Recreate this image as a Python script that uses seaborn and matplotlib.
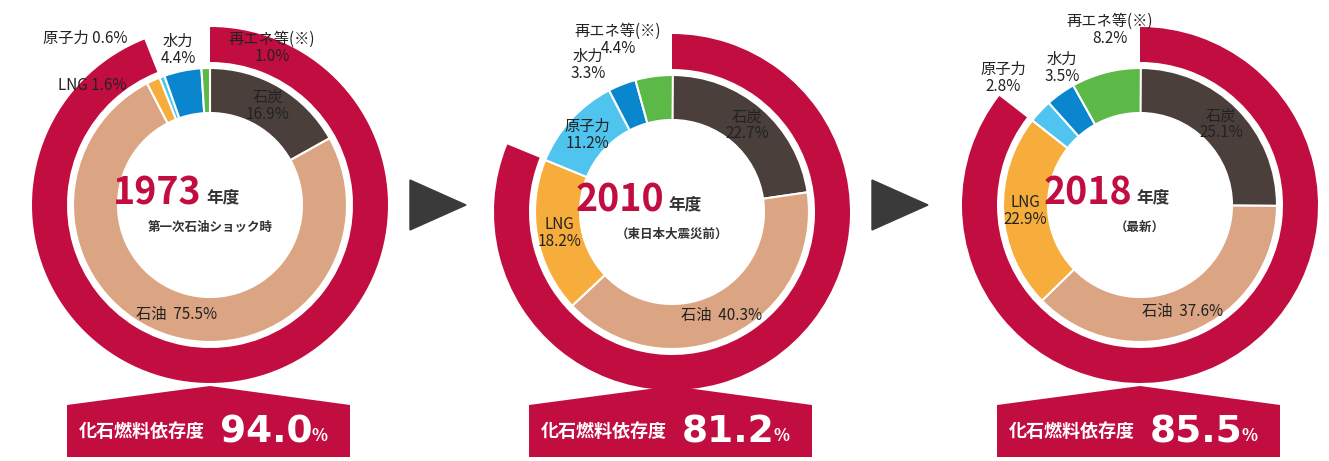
import numpy as np
import matplotlib.pyplot as plt
import seaborn as sns
from matplotlib.patches import Wedge, Polygon

sns.set_theme(style="white")
plt.rcParams["font.family"] = "Noto Sans CJK JP"

# DATA
years = ["1973", "2010", "2018"]
subtitles = ["第一次石油ショック時", "（東日本大震災前）", "（最新）"]
sources = ["石炭", "石油", "LNG", "原子力", "水力", "再エネ等(※)"]
share_1973 = [16.9, 75.5, 1.6, 0.6, 4.4, 1.0]
share_2010 = [22.7, 40.3, 18.2, 11.2, 3.3, 4.4]
share_2018 = [25.1, 37.6, 22.9, 2.8, 3.5, 8.2]
fossil_dep = [94.0, 81.2, 85.5]

shares = [share_1973, share_2010, share_2018]
colors = ["#4a3f3b", "#dba583", "#f6ad3c", "#4fc4ee", "#0a86cf", "#5cb947"]
RED = "#c20d40"
W, H = 1329, 461

centers = [(210, 205), (672, 212), (1140, 205)]
r_in, r_out = 92, 137
r_red_in, r_red_out = 143, 178

# label positions for the small slices (pixels from top-left)
small_pos = {
    (0, 2): (92, 85), (0, 3): (85, 38), (0, 4): (178, 50), (0, 5): (272, 48),
    (1, 4): (588, 65), (1, 5): (618, 40),
    (2, 3): (1003, 78), (2, 4): (1062, 68), (2, 5): (1110, 30),
}

fig = plt.figure(figsize=(W / 100, H / 100), dpi=100)
ax = fig.add_axes([0, 0, 1, 1])
ax.set_xlim(0, W)
ax.set_ylim(0, H)
ax.axis("off")


def ang(cum):
    return 90 - 3.6 * cum


for k, (cx, cy_pix) in enumerate(centers):
    cy = H - cy_pix
    # outer fossil ring
    ax.add_patch(Wedge((cx, cy), r_red_out, ang(fossil_dep[k]), 90,
                       width=r_red_out - r_red_in, color=RED, lw=0))
    cum = 0
    for i, v in enumerate(shares[k]):
        a1, a0 = ang(cum), ang(cum + v)
        ax.add_patch(Wedge((cx, cy), r_out, a0, a1, width=r_out - r_in,
                           facecolor=colors[i], edgecolor="white", lw=1.5))
        mid = np.deg2rad((a0 + a1) / 2)
        name = sources[i]
        if v >= 10:
            r = (r_in + r_out) / 2
            txt = f"{name}\n{v}%" if i != 1 else f"{name}  {v}%"
            ax.text(cx + r * np.cos(mid), cy + r * np.sin(mid), txt,
                    ha="center", va="center", fontsize=11, color="#222222",
                    linespacing=1.0)
        else:
            txt = f"{name} {v}%" if (k == 0 and i in (2, 3)) else f"{name}\n{v}%"
            tx, ty = small_pos[(k, i)]
            ax.text(tx, H - ty, txt, ha="center", va="center", fontsize=11,
                    color="#222222", linespacing=1.0)
        cum += v
    # center text
    ax.text(cx - 8, cy + 12, years[k], ha="right", va="center", fontsize=27,
            fontweight="bold", color=RED)
    ax.text(cx - 4, cy + 8, "年度", ha="left", va="center", fontsize=12,
            fontweight="bold", color="#333333")
    ax.text(cx, cy - 22, subtitles[k], ha="center", va="center", fontsize=9,
            fontweight="bold", color="#333333")
    # bottom badge
    x0, x1 = cx - 143, cx + 140
    yb, yt, ya = H - 457, H - 405, H - 386
    ax.add_patch(Polygon([(x0, yb), (x1, yb), (x1, yt), (cx, ya), (x0, yt)],
                         closed=True, color=RED, lw=0))
    ax.text(cx - 5, (yb + yt) / 2, "化石燃料依存度", ha="right", va="center",
            fontsize=13, fontweight="bold", color="white")
    ax.text(cx + 10, (yb + yt) / 2 - 1, f"{fossil_dep[k]}", ha="left",
            va="center", fontsize=27, fontweight="bold", color="white",
            family="DejaVu Sans")
    ax.text(cx + 102, (yb + yt) / 2 - 5, "%", ha="left", va="center",
            fontsize=12, fontweight="bold", color="white")

# arrows between donuts
for ax_x in (438, 900):
    ax.add_patch(Polygon([(ax_x - 28, H - 180), (ax_x - 28, H - 230),
                          (ax_x + 28, H - 205)], closed=True, color="#3a3a3a"))

fig.savefig("out.png", dpi=100)
